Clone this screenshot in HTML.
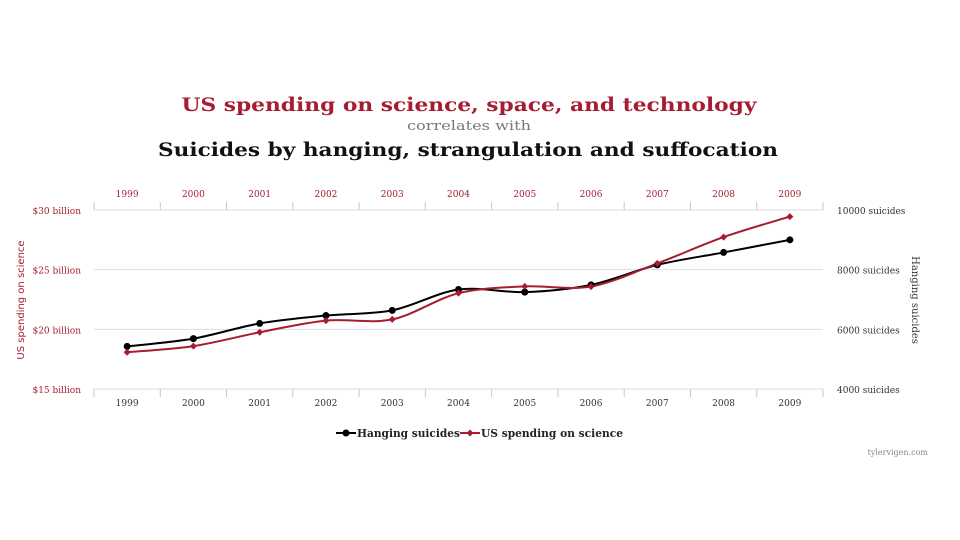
<!DOCTYPE html>
<html><head><meta charset="utf-8">
<style>
html,body{margin:0;padding:0;background:#fff;width:960px;height:540px;overflow:hidden}
svg{display:block}
</style></head>
<body>
<svg id="chart" width="960" height="540" viewBox="0 0 960 540" xmlns="http://www.w3.org/2000/svg">
<text x="469" y="111" text-anchor="middle" font-family="DejaVu Serif, Liberation Serif, serif" font-weight="bold" font-size="19" fill="#a61c32" textLength="575" lengthAdjust="spacingAndGlyphs">US spending on science, space, and technology</text>
<text x="469" y="130" text-anchor="middle" font-family="DejaVu Serif, Liberation Serif, serif" font-size="13" fill="#777" textLength="124" lengthAdjust="spacingAndGlyphs">correlates with</text>
<text x="468" y="156" text-anchor="middle" font-family="DejaVu Serif, Liberation Serif, serif" font-weight="bold" font-size="19" fill="#111" textLength="620" lengthAdjust="spacingAndGlyphs">Suicides by hanging, strangulation and suffocation</text>
<g id="grid"></g>
<g id="axes"></g>
<g id="series"></g>
<g id="legend">
  <line x1="336" y1="433" x2="356" y2="433" stroke="#000" stroke-width="2"/>
  <circle cx="346" cy="433" r="3.5" fill="#000"/>
  <text x="357" y="437" font-family="DejaVu Serif, serif" font-weight="bold" font-size="11" fill="#222" textLength="103" lengthAdjust="spacingAndGlyphs">Hanging suicides</text>
  <line x1="460" y1="433" x2="480" y2="433" stroke="#a61c32" stroke-width="2"/>
  <path d="M470 429.5 L473.5 433 L470 436.5 L466.5 433Z" fill="#a61c32"/>
  <text x="481" y="437" font-family="DejaVu Serif, serif" font-weight="bold" font-size="11" fill="#222" textLength="142" lengthAdjust="spacingAndGlyphs">US spending on science</text>
</g>
<text x="928" y="455" text-anchor="end" font-family="DejaVu Serif, serif" font-size="8" fill="#888">tylervigen.com</text>
</svg>
<script>
const years = ["1999","2000","2001","2002","2003","2004","2005","2006","2007","2008","2009"];
const suicides = [5427,5688,6198,6462,6635,7336,7248,7491,8161,8578,9000];
const spending = [18.079,18.594,19.753,20.734,20.831,23.029,23.597,23.584,25.525,27.731,29.449];
const leftTicks = [15,20,25,30];
const leftTickLabels = ["$15 billion","$20 billion","$25 billion","$30 billion"];
const rightTicks = [4000,6000,8000,10000];
const rightTickLabels = ["4000 suicides","6000 suicides","8000 suicides","10000 suicides"];

const NS="http://www.w3.org/2000/svg";
const X0=94, X1=823, YT=210, YB=389;
const bw=(X1-X0)/years.length;
function xPos(i){return X0+bw*(i+0.5);}
function yLeft(v){return YB-(v-15)/15*(YB-YT);}
function yRight(v){return YB-(v-4000)/6000*(YB-YT);}
function mk(tag,attrs,parent){const e=document.createElementNS(NS,tag);for(const k in attrs)e.setAttribute(k,attrs[k]);parent.appendChild(e);return e;}
const grid=document.getElementById('grid'),axes=document.getElementById('axes'),series=document.getElementById('series');
const serif="DejaVu Serif, Liberation Serif, serif";

leftTicks.forEach((t,i)=>{
  const y=yLeft(t);
  const l=mk('line',{x1:X0,x2:X1,y1:y,y2:y,stroke:'#d8dde6','stroke-width':1},grid);
  
  
  const tx=mk('text',{x:81,y:y+4,'text-anchor':'end','font-family':serif,'font-size':9,fill:'#a61c32'},axes);
  tx.textContent=leftTickLabels[i];
  
  
});
rightTicks.forEach((t,i)=>{
  const y=yRight(t);
  const tx=mk('text',{x:837,y:y+4,'font-family':serif,'font-size':9,fill:'#333'},axes);
  tx.textContent=rightTickLabels[i];
  
  
});
// tick marks
for(let i=0;i<=years.length;i++){
  const x=X0+bw*i;
  mk('line',{x1:x,x2:x,y1:YT-8,y2:YT,stroke:'#c0c8d4'},grid);
  mk('line',{x1:x,x2:x,y1:YB,y2:YB+8,stroke:'#c0c8d4'},grid);
}
years.forEach((yr,i)=>{
  const t1=mk('text',{x:xPos(i),y:197,'text-anchor':'middle','font-family':serif,'font-size':9,fill:'#a61c32'},axes);
  t1.textContent=yr;
  
  
  const t2=mk('text',{x:xPos(i),y:406,'text-anchor':'middle','font-family':serif,'font-size':9,fill:'#333'},axes);
  t2.textContent=yr;
  
  
});
const lt=mk('text',{transform:'translate(24,300) rotate(-90)','text-anchor':'middle','font-family':'DejaVu Sans, Liberation Sans, sans-serif','font-size':10,fill:'#a61c32'},axes);
lt.textContent='US spending on science';


const rt=mk('text',{transform:'translate(912,300) rotate(90)','text-anchor':'middle','font-family':serif,'font-size':10,fill:'#333'},axes);
rt.textContent='Hanging suicides';



function smoothPath(pts){
  let d='M'+pts[0][0]+' '+pts[0][1];
  for(let i=0;i<pts.length-1;i++){
    const p0=pts[i-1]||pts[i],p1=pts[i],p2=pts[i+1],p3=pts[i+2]||p2;
    const t=0.16;
    const c1=[p1[0]+(p2[0]-p0[0])*t,p1[1]+(p2[1]-p0[1])*t];
    const c2=[p2[0]-(p3[0]-p1[0])*t,p2[1]-(p3[1]-p1[1])*t];
    d+=` C${c1[0]} ${c1[1]} ${c2[0]} ${c2[1]} ${p2[0]} ${p2[1]}`;
  }
  return d;
}
const bPts=suicides.map((v,i)=>[xPos(i),yRight(v)]);
const rPts=spending.map((v,i)=>[xPos(i),yLeft(v)]);
const bl=mk('path',{d:smoothPath(bPts),fill:'none',stroke:'#000','stroke-width':2},series);


const rl=mk('path',{d:smoothPath(rPts),fill:'none',stroke:'#a61c32','stroke-width':2},series);


bPts.forEach(p=>{
  const c=mk('circle',{cx:p[0],cy:p[1],r:3.5,fill:'#000'},series);
  
  
});
rPts.forEach(p=>{
  const c=mk('path',{d:`M${p[0]} ${p[1]-3.5} L${p[0]+3.5} ${p[1]} L${p[0]} ${p[1]+3.5} L${p[0]-3.5} ${p[1]}Z`,fill:'#a61c32'},series);
  
  
});
</script>
</body></html>
